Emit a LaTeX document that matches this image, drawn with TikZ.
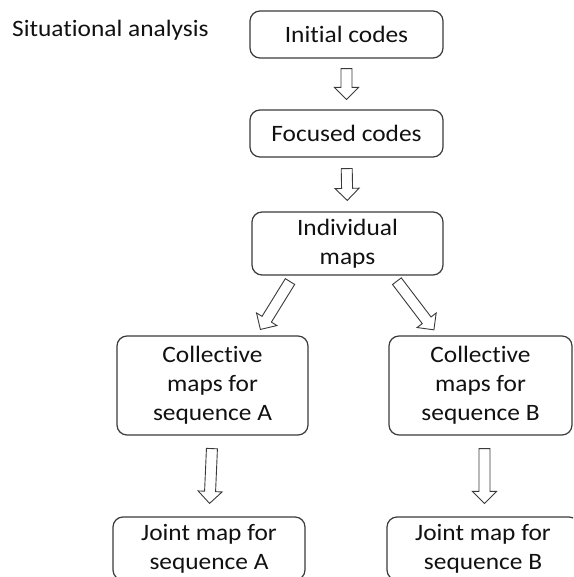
\documentclass[tikz,border=0pt]{standalone}
\usepackage{fontspec}
\setmainfont{Carlito}[FakeStretch=1.08, Ligatures=NoCommon]
\usepackage{tikz}
\usetikzlibrary{calc}

\definecolor{linegray}{HTML}{3A3A3A}
\definecolor{textgray}{HTML}{111111}

\tikzset{
  stage/.style={draw=linegray, line width=1.2pt, rounded corners=10pt, align=center,
    inner sep=0pt, text=textgray, font=\fontsize{23.5}{29}\selectfont},
  hollow/.style={draw=linegray, line width=0.9pt, fill=white, line join=miter},
}

% fletxa buida entre dos punts (#1 = marge)
\newcommand{\blockarrow}[3][9pt]{%
  \path ($(#2)!#1!(#3)$) coordinate (ba-s) ($(#3)!#1!(#2)$) coordinate (ba-t);
  \path ($(ba-t)!12pt!(ba-s)$) coordinate (ba-h);
  \draw[hollow] ($(ba-s)!5.5pt!90:(ba-t)$) -- ($(ba-h)!5.5pt!-90:(ba-s)$)
    -- ($(ba-h)!12pt!-90:(ba-s)$) -- (ba-t) -- ($(ba-h)!12pt!90:(ba-s)$)
    -- ($(ba-h)!5.5pt!90:(ba-s)$) -- ($(ba-s)!5.5pt!-90:(ba-t)$) -- cycle;
}

\begin{document}
\begin{tikzpicture}[x=1pt, y=-1pt]
    % MARC DE LA IMATGE
    \useasboundingbox (0,0) rectangle (573,577);
    \clip (0,0) rectangle (573,577);

    % TITOL
    \node[anchor=base west, inner sep=0pt, text=textgray, font=\fontsize{23.5}{29}\selectfont] (title) at (12,37) {Situational analysis};

    % CAIXES DE LA COLUMNA CENTRAL
    \node[stage, minimum width=193, minimum height=47] (initial) at (346.5,34.5) {Initial codes};
    \node[stage, minimum width=193, minimum height=47] (focused) at (346.5,133.5) {Focused codes};
    \node[stage, minimum width=191, minimum height=63] (individual) at (347.5,243.5) {Individual\\maps};

    % CAIXES DE LES SEQUENCIES
    \node[stage, minimum width=191, minimum height=99] (collA) at (212.5,385.5) {Collective\\maps for\\sequence A};
    \node[stage, minimum width=183, minimum height=99] (collB) at (480.5,385.5) {Collective\\maps for\\sequence B};
    \node[stage, minimum width=192, minimum height=63] (jointA) at (209,548.5) {Joint map for\\sequence A};
    \node[stage, minimum width=192, minimum height=63] (jointB) at (483,548.5) {Joint map for\\sequence B};

    % FLETXES
    \blockarrow[10pt]{initial.south}{focused.north}
    \blockarrow[11pt]{focused.south}{individual.north}
    \blockarrow[7pt]{$(individual.south west)!0.22!(individual.south east)$}{$(collA.north west)!0.73!(collA.north east)$}
    \blockarrow[7pt]{$(individual.south west)!0.735!(individual.south east)$}{$(collB.north west)!0.27!(collB.north east)$}
    \blockarrow[13pt]{collA.south}{jointA.north}
    \blockarrow[13pt]{$(collB.south)+(4,0)$}{$(jointB.north)+(1.5,0)$}

\end{tikzpicture}
\end{document}
